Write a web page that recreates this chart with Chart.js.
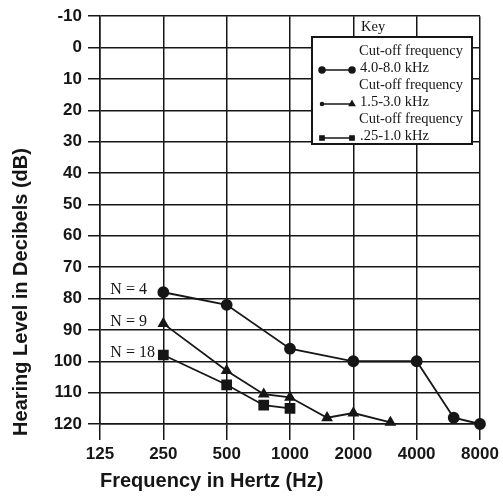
<!DOCTYPE html>
<html>
<head>
<meta charset="utf-8">
<script src="https://cdn.jsdelivr.net/npm/chart.js@4.4.1/dist/chart.umd.min.js"></script>
<style>
html, body { margin: 0; padding: 0; background: #fff; }
</style>
</head>
<body>
<canvas id="audiogram" width="503" height="504"></canvas>
<script>
// values
const freqTicks = [125, 250, 500, 1000, 2000, 4000, 8000];

const highFreqs = [250, 500, 1000, 2000, 4000, 6000, 8000];
const highLevels = [78, 82, 96, 100, 100, 118, 120];

const midFreqs = [250, 500, 750, 1000, 1500, 2000, 3000];
const midLevels = [88, 103, 110.5, 111.5, 118, 116.5, 119.5];

const lowFreqs = [250, 500, 750, 1000];
const lowLevels = [98, 107.5, 114, 115];

const seriesNames = ['4.0-8.0 kHz', '1.5-3.0 kHz', '.25-1.0 kHz'];
const groupSizes = ['N = 4', 'N = 9', 'N = 18'];

const INK = '#161616';
const SANS = '"Liberation Sans", Arial, sans-serif';
const SERIF = '"Liberation Serif", "Times New Roman", serif';

function pts(xs, ys) {
    return xs.map((x, i) => ({ x: x, y: ys[i] }));
}

function series(label, xs, ys, style, radius) {
    return {
        label: label,
        data: pts(xs, ys),
        borderColor: INK,
        backgroundColor: INK,
        pointBackgroundColor: INK,
        pointBorderColor: INK,
        borderWidth: 1.8,
        pointStyle: style,
        pointRadius: radius,
        tension: 0,
        fill: false,
        clip: false
    };
}

// y title, "Key" box and the N = .. labels
const extras = {
    id: 'extras',
    afterDatasetsDraw(chart) {
        const ctx = chart.ctx;
        ctx.save();

        // N labels next to first point of each curve
        ctx.font = '16px ' + SERIF;
        ctx.fillStyle = INK;
        ctx.textBaseline = 'middle';
        ctx.textAlign = 'left';
        chart.data.datasets.forEach((ds, i) => {
            const p = chart.getDatasetMeta(i).data[0];
            ctx.fillText(groupSizes[i], p.x - 53, p.y - 2);
        });

        // y axis title
        ctx.save();
        ctx.translate(21, 292);
        ctx.rotate(-Math.PI / 2);
        ctx.textAlign = 'center';
        ctx.font = 'bold 20px ' + SANS;
        ctx.fillText('Hearing Level in Decibels (dB)', 0, 0);
        ctx.restore();

        // key
        ctx.font = '14.5px ' + SERIF;
        ctx.fillText('Key', 361, 27);
        ctx.fillStyle = '#fff';
        ctx.fillRect(312, 37, 160, 107);
        ctx.strokeStyle = INK;
        ctx.lineWidth = 2;
        ctx.strokeRect(312, 37, 160, 107);

        chart.data.datasets.forEach((ds, i) => {
            const y0 = 51 + i * 34;
            ctx.fillStyle = INK;
            ctx.fillText('Cut-off frequency', 359, y0);
            ctx.fillText(ds.label, 360, y0 + 17);
            const ly = y0 + 19;
            ctx.lineWidth = 1.5;
            ctx.beginPath();
            ctx.moveTo(322, ly);
            ctx.lineTo(352, ly);
            ctx.stroke();
            Chart.helpers.drawPoint(ctx, { pointStyle: i === 1 ? 'circle' : ds.pointStyle, radius: i === 1 ? 1.5 : 3, rotation: 0, borderWidth: 1 }, 322, ly);
            Chart.helpers.drawPoint(ctx, { pointStyle: ds.pointStyle, radius: 3, rotation: 0, borderWidth: 1 }, 352, ly);
        });

        ctx.restore();
    }
};

new Chart(document.getElementById('audiogram'), {
    type: 'line',
    data: {
        datasets: [
            series(seriesNames[0], highFreqs, highLevels, 'circle', 5),
            series(seriesNames[1], midFreqs, midLevels, 'triangle', 5),
            series(seriesNames[2], lowFreqs, lowLevels, 'rect', 6.3)
        ]
    },
    options: {
        responsive: false,
        animation: false,
        layout: { padding: { top: 15, right: 23, left: 0, bottom: 0 } },
        plugins: {
            legend: { display: false },
            tooltip: { enabled: false }
        },
        scales: {
            x: {
                type: 'logarithmic',
                min: 125,
                max: 8000,
                afterBuildTicks: s => { s.ticks = freqTicks.map(v => ({ value: v })); },
                afterFit: s => { s.height = 80; },
                grid: { color: INK, lineWidth: 1.5, tickLength: 16 },
                border: { color: INK, width: 1.5 },
                ticks: {
                    autoSkip: false,
                    maxRotation: 0,
                    padding: 4,
                    color: INK,
                    font: { family: SANS, size: 17, weight: 'bold' },
                    callback: v => String(v)
                },
                title: {
                    display: true,
                    text: 'Frequency in Hertz (Hz)',
                    align: 'start',
                    color: INK,
                    font: { family: SANS, size: 20, weight: 'bold' },
                    padding: { top: 0, bottom: 11 }
                }
            },
            y: {
                type: 'linear',
                reverse: true,
                min: -10,
                max: 120,
                afterFit: s => { s.width = 100; },
                grid: { color: INK, lineWidth: 1.5, tickLength: 12 },
                border: { color: INK, width: 1.5 },
                ticks: {
                    stepSize: 10,
                    padding: 6,
                    color: INK,
                    font: { family: SANS, size: 17, weight: 'bold' }
                }
            }
        }
    },
    plugins: [extras]
});
</script>
</body>
</html>
